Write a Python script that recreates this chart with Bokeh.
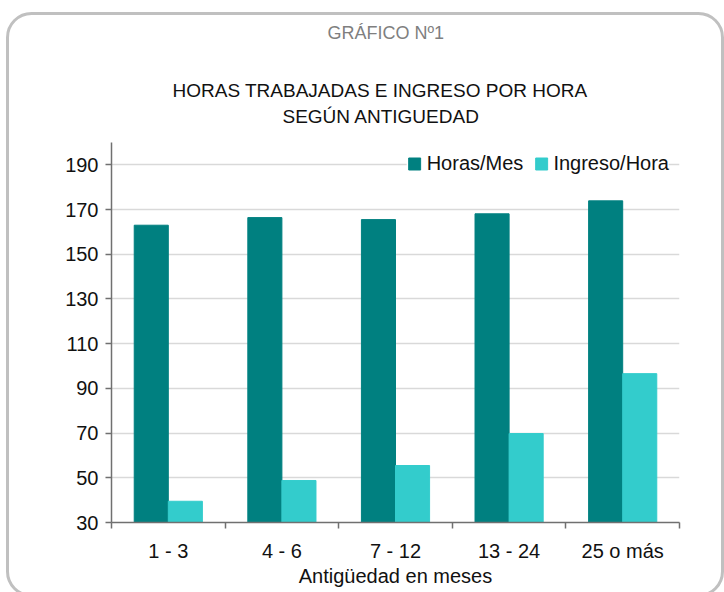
from urllib.parse import quote
from bokeh.plotting import figure
from bokeh.models import (Range1d, FixedTicker, Legend, LegendItem, Title)
from bokeh.embed import file_html
from bokeh.resources import INLINE

categories = ["1 - 3", "4 - 6", "7 - 12", "13 - 24", "25 o más"]
horas_mes = [163.0, 166.4, 165.5, 168.1, 173.9]
ingreso_hora = [39.5, 48.8, 55.5, 69.8, 96.6]
y_ticks = [30, 50, 70, 90, 110, 130, 150, 170, 190]

FONT = "Liberation Sans"
DARK = "#008080"
LIGHT = "#33CCCC"
TXT = "#111111"
AX = "#707070"

W, H = 724, 592
FL, FR, FT, FB = 111, 679, 142, 522   # plot-frame edges in canvas pixels
Y0, Y1 = 30, 200

idx = list(range(len(categories)))
x_dark = [i + 0.35 for i in idx]
x_light = [i + 0.65 for i in idx]
centers = [i + 0.5 for i in idx]
bounds = list(range(len(categories) + 1))

# rounded outer border drawn as a CSS background behind the (transparent) canvas border
border_svg = ("<svg xmlns='http://www.w3.org/2000/svg' width='724' height='592'>"
              "<rect x='7.5' y='13.5' width='715' height='582' rx='24' ry='24' "
              "fill='none' stroke='#c0c0c0' stroke-width='3'/></svg>")
css_bg = 'url("data:image/svg+xml,' + quote(border_svg, safe="") + '")'

p = figure(width=W, height=H, output_backend="svg", toolbar_location=None,
           x_range=Range1d(0, len(categories)), y_range=Range1d(Y0, Y1),
           min_border_left=FL, min_border_right=W - FR, min_border_top=FT,
           min_border_bottom=H - FB, background_fill_color="white",
           border_fill_color=None,
           styles={"background-image": css_bg, "background-repeat": "no-repeat",
                   "background-color": "white"})
p.outline_line_color = None

r1 = p.vbar(x=x_dark, top=horas_mes, bottom=0, width=0.3,
            fill_color=DARK, line_color=DARK)
r2 = p.vbar(x=x_light, top=ingreso_hora, bottom=0, width=0.3,
            fill_color=LIGHT, line_color=LIGHT)

# x axis: labels at category centres, ticks at category boundaries
xa = p.xaxis[0]
xa.ticker = FixedTicker(ticks=centers, minor_ticks=bounds)
xa.major_label_overrides = {c: lab for c, lab in zip(centers, categories)}
xa.major_tick_out = 0
xa.major_tick_in = 0
xa.minor_tick_out = 6
xa.minor_tick_in = 0
xa.minor_tick_line_color = AX
xa.minor_tick_line_width = 1.5
xa.axis_line_color = AX
xa.axis_line_width = 1.5
xa.major_label_text_font = FONT
xa.major_label_text_font_size = "20px"
xa.major_label_text_color = TXT
xa.major_label_standoff = 11
xa.axis_label = "Antigüedad en meses"
xa.axis_label_text_font = FONT
xa.axis_label_text_font_size = "20px"
xa.axis_label_text_font_style = "normal"
xa.axis_label_text_color = TXT
xa.axis_label_standoff = 0

# y axis
ya = p.yaxis[0]
ya.ticker = FixedTicker(ticks=y_ticks)
ya.major_tick_out = 6
ya.major_tick_in = 0
ya.minor_tick_out = 0
ya.minor_tick_in = 0
ya.major_tick_line_color = AX
ya.major_tick_line_width = 1.5
ya.axis_line_color = AX
ya.axis_line_width = 1.5
ya.major_label_text_font = FONT
ya.major_label_text_font_size = "20px"
ya.major_label_text_color = TXT
ya.major_label_standoff = 7

p.xgrid.visible = False
p.ygrid.ticker = FixedTicker(ticks=y_ticks)
p.ygrid.grid_line_color = "#d9d9d9"
p.ygrid.grid_line_width = 1.5

legend = Legend(items=[LegendItem(label="Horas/Mes", renderers=[r1]),
                       LegendItem(label="Ingreso/Hora", renderers=[r2])],
                orientation="horizontal", location="top_right",
                glyph_width=15, glyph_height=15, label_standoff=5, spacing=10,
                padding=10, margin=10, border_line_color=None,
                background_fill_color="white", background_fill_alpha=1.0,
                label_text_font=FONT, label_text_font_size="20px",
                label_text_color=TXT)
p.add_layout(legend)

# titles: first added sits nearest the plot; tiny blank titles act as spacers
def spacer(gap):
    return Title(text=" ", text_font_size="1px", standoff=gap)

def heading(text, off, size, color, gap=0):
    return Title(text=text, align="left", offset=off, standoff=gap,
                 text_font=FONT, text_font_size=size, text_font_style="normal",
                 text_color=color)

p.add_layout(spacer(13), "above")
p.add_layout(heading("SEGÚN ANTIGUEDAD", 171, "19px", TXT), "above")
p.add_layout(heading("HORAS TRABAJADAS E INGRESO POR HORA", 61, "19px", TXT, gap=6), "above")
p.add_layout(spacer(29), "above")
p.add_layout(heading("GRÁFICO Nº1", 216, "18px", "#7f7f7f"), "above")

open("out.html", "w").write(file_html(p, INLINE))
